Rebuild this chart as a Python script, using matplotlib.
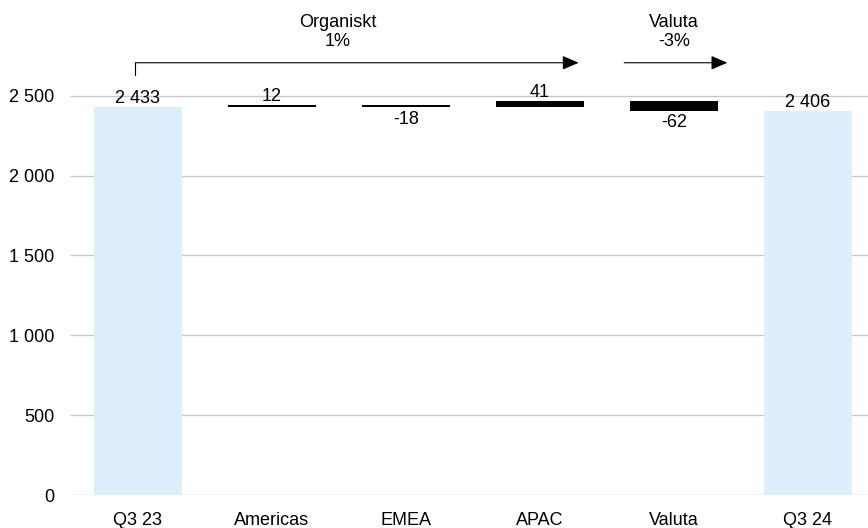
import numpy as np
import matplotlib.pyplot as plt

plt.rcParams['font.family'] = ['Liberation Sans', 'DejaVu Sans']

categories = ['Q3 23', 'Americas', 'EMEA', 'APAC', 'Valuta', 'Q3 24']
start_total = 2433
deltas = [12, -18, 41, -62]
end_total = 2406

total_color = '#ddeffc'
delta_color = '#000000'
grid_color = '#c8c8c8'
fs = 13


def fmt(v):
    return f'{v:,}'.replace(',', ' ')


fig = plt.figure(figsize=(8.68, 5.28), dpi=100)
ax = fig.add_axes([71 / 868, 33 / 528, 1 - 71 / 868, 495 / 528])

x = np.arange(len(categories))
w = 0.66

# totalstaplar
ax.bar(x[0], start_total, width=w, color=total_color, zorder=2)
ax.bar(x[-1], end_total, width=w, color=total_color, zorder=2)
ax.annotate(fmt(start_total), (x[0], start_total), xytext=(0, 0),
            textcoords='offset points', ha='center', va='bottom', fontsize=fs)
ax.annotate(fmt(end_total), (x[-1], end_total), xytext=(0, 0),
            textcoords='offset points', ha='center', va='bottom', fontsize=fs)

# förändringar
level = start_total
for i, d in enumerate(deltas, start=1):
    ax.bar(x[i], d, bottom=level, width=w, color=delta_color, zorder=3)
    if d >= 0:
        ax.annotate(fmt(d), (x[i], level + d), xytext=(0, 0),
                    textcoords='offset points', ha='center', va='bottom', fontsize=fs)
    else:
        ax.annotate(fmt(d), (x[i], level + d), xytext=(0, -2.5),
                    textcoords='offset points', ha='center', va='top', fontsize=fs)
    level += d

# pilar ovanför
arrow_y = 2707
aprops = dict(arrowstyle='-|>,head_length=1.0,head_width=0.43', color='black',
              lw=0.8, shrinkA=0, shrinkB=0)
ax.plot([x[0] - 0.02, x[0] - 0.02], [2632, arrow_y], color='black', lw=0.8, clip_on=False)
ax.annotate('', xy=(x[3] + 0.29, arrow_y), xytext=(x[0] - 0.02, arrow_y),
            arrowprops=aprops, annotation_clip=False)
ax.annotate('', xy=(x[4] + 0.40, arrow_y), xytext=(x[4] - 0.37, arrow_y),
            arrowprops=aprops, annotation_clip=False)
ax.text(1.49, 2790, 'Organiskt\n1%', ha='center', va='bottom', fontsize=fs,
        linespacing=1.1)
ax.text(x[4], 2790, 'Valuta\n-3%', ha='center', va='bottom', fontsize=fs,
        linespacing=1.1)

ax.set_xlim(-0.5, 5.45)
ax.set_ylim(0, 3100)
ax.set_yticks([0, 500, 1000, 1500, 2000, 2500])
ax.set_yticklabels([fmt(v) for v in [0, 500, 1000, 1500, 2000, 2500]], fontsize=fs)
ax.set_xticks(x)
ax.set_xticklabels(categories, fontsize=fs)
ax.tick_params(axis='y', length=0, pad=12)
ax.tick_params(axis='x', length=0, pad=12)
ax.grid(axis='y', color=grid_color, lw=1, zorder=0)
ax.set_axisbelow(True)
for s in ax.spines.values():
    s.set_visible(False)

fig.savefig('out.png', dpi=100)
